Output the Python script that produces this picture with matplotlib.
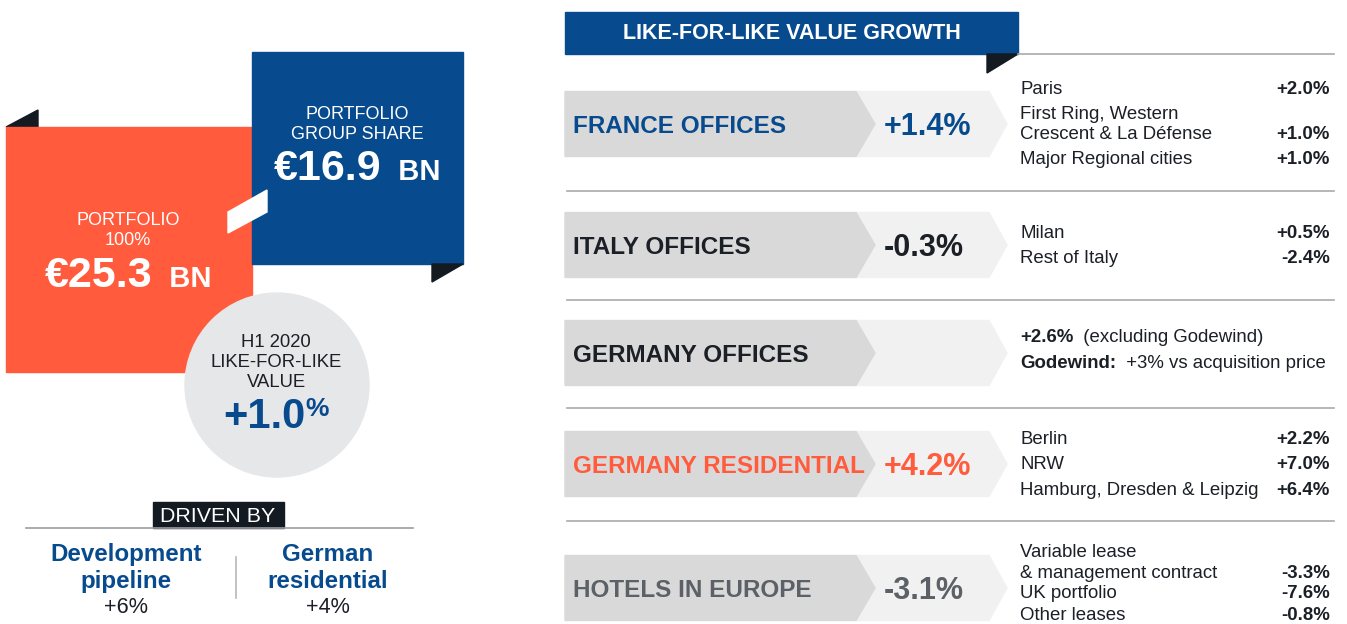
import matplotlib
matplotlib.use("Agg")
import matplotlib.pyplot as plt
from matplotlib.patches import Polygon, Rectangle, Circle

plt.rcParams['font.family'] = ['Liberation Sans', 'DejaVu Sans']

# ---- data ----
portfolio_total = "€25.3"
portfolio_group = "€16.9"
lfl_total = "+1.0"
drivers = ["Development\npipeline", "German\nresidential"]
driver_values = ["+6%", "+4%"]

segments = ["FRANCE OFFICES", "ITALY OFFICES", "GERMANY OFFICES",
            "GERMANY RESIDENTIAL", "HOTELS IN EUROPE"]
segment_growth = ["+1.4%", "-0.3%", "", "+4.2%", "-3.1%"]
sub_labels = [
    ["Paris", "First Ring, Western", "Crescent & La Défense", "Major Regional cities"],
    ["Milan", "Rest of Italy"],
    [],
    ["Berlin", "NRW", "Hamburg, Dresden & Leipzig"],
    ["Variable lease", "& management contract", "UK portfolio", "Other leases"],
]
sub_values = [
    ["+2.0%", "", "+1.0%", "+1.0%"],
    ["+0.5%", "-2.4%"],
    [],
    ["+2.2%", "+7.0%", "+6.4%"],
    ["", "-3.3%", "-7.6%", "-0.8%"],
]

# ---- styling ----
BLUE = "#074a8d"
ORANGE = "#ff5b3c"
DARK = "#131a22"
INK = "#1b1f26"
GREY_TXT = "#5b6167"
seg_colors = [BLUE, INK, INK, ORANGE, GREY_TXT]
seg_centers = [124, 245, 353, 464, 588]
sub_rows = [[94, 119, 139, 164], [238, 263], [], [444, 469, 495], [557, 578, 598, 620]]
separators = [191, 300, 408, 521]

W, H = 1347, 624
fig = plt.figure(figsize=(W / 100, H / 100), dpi=100)
ax = fig.add_axes([0, 0, 1, 1])
ax.set_xlim(0, W)
ax.set_ylim(H, 0)
ax.axis("off")
renderer = fig.canvas.get_renderer()


def text_run(parts, x, y, ha="left"):
    # draw several text pieces on one baseline
    widths = []
    objs = []
    for s, kw in parts:
        t = ax.text(0, y, s, va="baseline", ha="left", **kw)
        bb = t.get_window_extent(renderer)
        widths.append(bb.width)
        objs.append(t)
    total = sum(widths)
    if ha == "center":
        x0 = x - total / 2
    elif ha == "right":
        x0 = x - total
    else:
        x0 = x
    for t, w in zip(objs, widths):
        t.set_x(x0)
        x0 += w
    return objs


# ---- left block ----
ax.add_patch(Polygon([(6, 127), (38, 110), (38, 127)], color=DARK))
ax.add_patch(Rectangle((6, 127), 246, 245, color=ORANGE))
ax.add_patch(Rectangle((252, 52), 211, 212, color=BLUE))
ax.add_patch(Polygon([(432, 264), (463, 264), (432, 282)], color=DARK))
ax.add_patch(Polygon([(228, 212), (267, 190), (267, 212), (228, 233)], color="white"))
ax.add_patch(Circle((277, 385), 92, color="#e6e7e9"))

ax.text(128, 225, "PORTFOLIO", ha="center", va="baseline", color="white", fontsize=13)
ax.text(128, 245, "100%", ha="center", va="baseline", color="white", fontsize=13)
text_run([(portfolio_total, dict(fontsize=31, fontweight="bold", color="white")),
          ("  BN", dict(fontsize=21, fontweight="bold", color="white"))], 128, 287, "center")

ax.text(357, 119, "PORTFOLIO", ha="center", va="baseline", color="white", fontsize=13)
ax.text(357, 139, "GROUP SHARE", ha="center", va="baseline", color="white", fontsize=13)
text_run([(portfolio_group, dict(fontsize=31, fontweight="bold", color="white")),
          ("  BN", dict(fontsize=21, fontweight="bold", color="white"))], 357, 180, "center")

for i, s in enumerate(["H1 2020", "LIKE-FOR-LIKE", "VALUE"]):
    ax.text(276, 347 + 20 * i, s, ha="center", va="baseline", color=INK, fontsize=13.3)
objs = text_run([(lfl_total, dict(fontsize=30, fontweight="bold", color=BLUE)),
                 ("%", dict(fontsize=19, fontweight="bold", color=BLUE))], 276, 428, "center")
objs[1].set_y(416)

ax.add_patch(Rectangle((153, 502), 131, 26, color=DARK))
ax.text(218, 522, "DRIVEN BY", ha="center", va="baseline", color="white", fontsize=15.4)
ax.plot([26, 413], [528, 528], color="#9a9ea3", lw=1.2)
ax.plot([236, 236], [557, 598], color="#b5b8bc", lw=1.2)
for xc, name, val in zip([126, 328], drivers, driver_values):
    l1, l2 = name.split("\n")
    ax.text(xc, 561, l1, ha="center", va="baseline", color=BLUE, fontsize=17.4, fontweight="bold")
    ax.text(xc, 588, l2, ha="center", va="baseline", color=BLUE, fontsize=17.4, fontweight="bold")
    ax.text(xc, 613, val, ha="center", va="baseline", color=INK, fontsize=15.6)

# ---- right block ----
ax.add_patch(Rectangle((565, 12), 453, 42, color=BLUE))
ax.add_patch(Polygon([(987, 54), (1018, 54), (987, 73)], color=DARK))
ax.text(792, 39, "LIKE-FOR-LIKE VALUE GROWTH", ha="center", va="baseline",
        color="white", fontsize=15.5, fontweight="bold")
ax.plot([1018, 1334], [54, 54], color="#a8abaf", lw=1.2)
for ys in separators:
    ax.plot([567, 1334], [ys, ys], color="#a8abaf", lw=1.2)

for seg, val, col, yc, labs, vals, rows in zip(segments, segment_growth, seg_colors,
                                                seg_centers, sub_labels, sub_values, sub_rows):
    top, bot = yc - 32.5, yc + 32.5
    ax.add_patch(Polygon([(856, top), (989, top), (1007, yc), (989, bot), (856, bot)],
                         color="#f1f1f1"))
    ax.add_patch(Polygon([(565, top), (856, top), (875, yc), (856, bot), (565, bot)],
                         color="#d9d9d9"))
    ax.text(573, yc + 9, seg, ha="left", va="baseline", color=col,
            fontsize=17.5, fontweight="bold")
    if val:
        ax.text(884, yc + 11, val, ha="left", va="baseline", color=col,
                fontsize=22, fontweight="bold")
    for lab, v, yb in zip(labs, vals, rows):
        ax.text(1020, yb, lab, ha="left", va="baseline", color=INK, fontsize=13.4)
        if v:
            ax.text(1330, yb, v, ha="right", va="baseline", color=INK,
                    fontsize=13.4, fontweight="bold")

# Germany offices detail lines
text_run([("+2.6%", dict(fontsize=13.4, fontweight="bold", color=INK)),
          ("  (excluding Godewind)", dict(fontsize=13.4, color=INK))], 1020, 342)
text_run([("Godewind:", dict(fontsize=13.4, fontweight="bold", color=INK)),
          ("  +3% vs acquisition price", dict(fontsize=13.4, color=INK))], 1020, 368)

fig.savefig("out.png", dpi=100)
